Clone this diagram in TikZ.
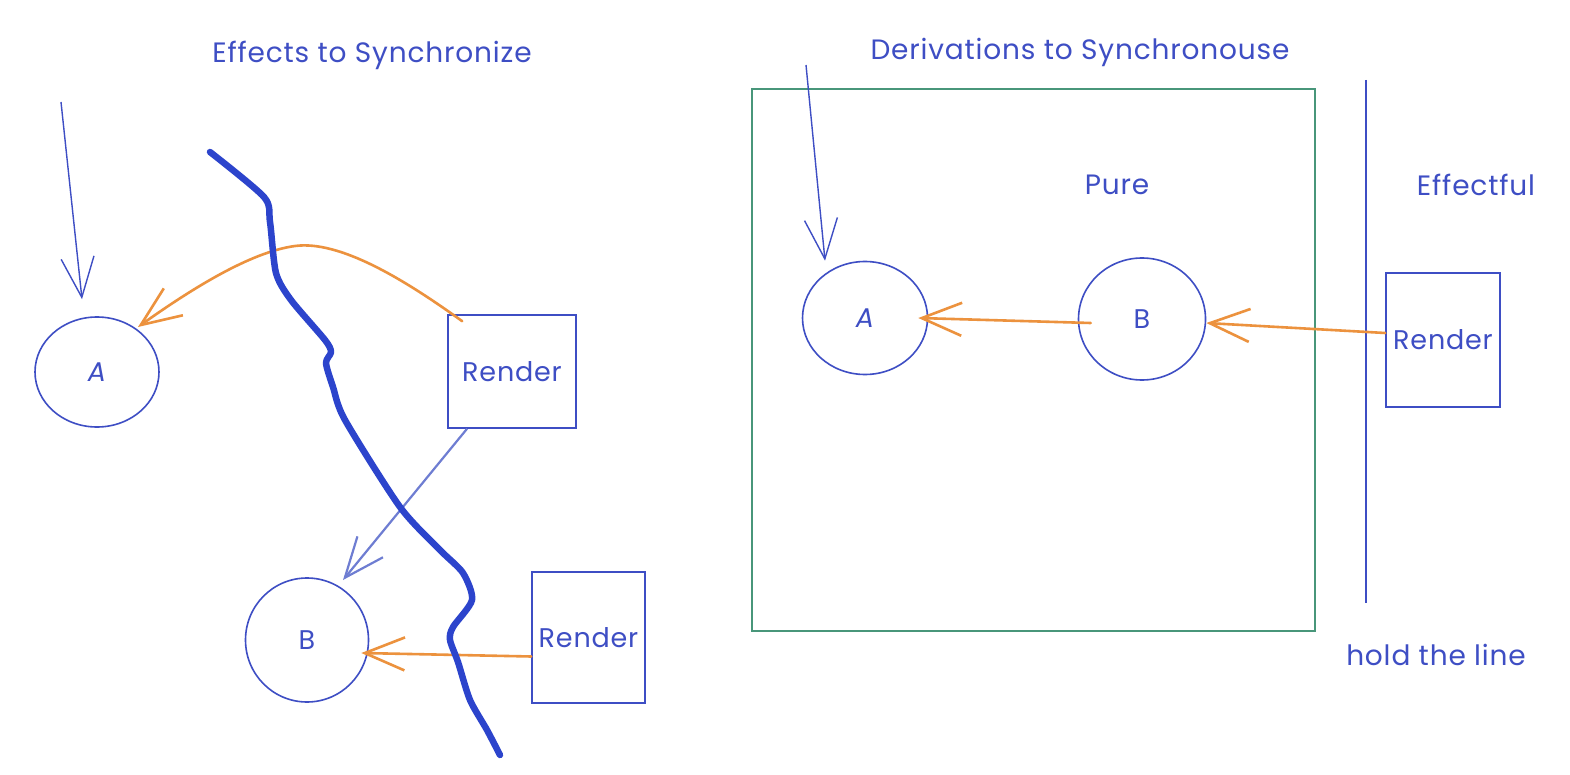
\documentclass[tikz,border=0pt]{standalone}
\usepackage{fontspec}
\setmainfont{Poppins}[LetterSpace=3]
\usetikzlibrary{arrows.meta,shapes.geometric}
\definecolor{inkblue}{RGB}{62,78,196}
\definecolor{thickblue}{RGB}{44,68,204}
\definecolor{inkorange}{RGB}{236,146,62}
\definecolor{inkgreen}{RGB}{72,150,122}
\definecolor{softblue}{RGB}{110,125,210}
\begin{document}
\begin{tikzpicture}[x=1pt,y=-1pt,
  lbl/.style={text=inkblue, font=\fontsize{28}{32}\selectfont, inner sep=0pt},
  circ/.style={ellipse, draw=inkblue, line width=1.6pt, text=inkblue, inner sep=0pt, font=\fontsize{27}{30}\selectfont},
  rbox/.style={rectangle, draw=inkblue, line width=1.6pt, text=inkblue, inner sep=0pt, font=\fontsize{27}{30}\selectfont},
  barb/.style={-{Straight Barb[length=40pt,width=33pt]}},
  inarrow/.style={barb, draw=inkblue, line width=1.4pt},
  orarrow/.style={barb, draw=inkorange, line width=2.6pt, line cap=round},
  fence/.style={draw=thickblue, line width=6.5pt, line cap=round, line join=round}
]
\useasboundingbox (0,0) rectangle (1570,775);
\fill[white] (0,0) rectangle (1570,775);

% ---------- left half ----------
\node[lbl] (t1) at (372,55) {Effects to Synchronize};
\node[circ, minimum width=124pt, minimum height=110pt] (A1) at (97,372) {\itshape A};
\node[rbox, minimum width=128pt, minimum height=113pt] (R1) at (512,371.5) {Render};
\node[circ, minimum width=123pt, minimum height=124pt] (B1) at (307,640) {B};
\node[rbox, minimum width=113pt, minimum height=131pt] (R2) at (588.5,637.5) {Render};

\coordinate (inA1) at (61,102);
\draw[inarrow] (inA1) -- ([shift={(-15pt,17pt)}]A1.north);

\draw[orarrow] ([shift={(15pt,-7pt)}]R1.north west)
  .. controls (405,280) and (340,240) .. (295,246)
  .. controls (250,252) and (190,290) .. ([shift={(41pt,45pt)}]A1.center);

\draw[barb, draw=softblue, line width=2.2pt] ([xshift=-45pt]R1.south) -- ([shift={(36pt,60pt)}]B1.center);

\draw[orarrow] ([yshift=-19pt]R2.west) -- ([shift={(-8pt,-13pt)}]B1.east);

\draw[fence] plot[smooth, tension=0.45] coordinates {
  (210,152) (264,197) (270,222) (276,273) (291,300) (325,340) (331,352)
  (326,363) (333,387) (345,420) (400,507) (440,550) (463,573) (472,600)
  (453,627) (450,640) (458,662) (470,700) (487,730) (500,755)};

% ---------- right half ----------
\node[lbl] (t2) at (1080,52) {Derivations to Synchronouse};
\node[rectangle, draw=inkgreen, line width=2.2pt, minimum width=563pt, minimum height=542pt] (purebox) at (1033.5,360) {};
\node[lbl] (pure) at (1117,185) {Pure};
\node[lbl] (eff) at (1476,185) {Effectful};
\node[lbl] (hold) at (1436,655) {hold the line};

\coordinate (lineTop) at (1366,80);
\coordinate (lineBot) at (1366,603);
\draw[draw=inkblue, line width=2.8pt] (lineTop) -- (lineBot);

\node[circ, minimum width=125pt, minimum height=113pt] (A2) at (865,318) {\itshape A};
\node[circ, minimum width=127pt, minimum height=122pt] (B2) at (1142,319) {B};
\node[rbox, minimum width=114pt, minimum height=134pt] (R3) at (1443,340) {Render};

\coordinate (inA2) at (806,65);
\draw[inarrow] (inA2) -- ([shift={(-40pt,0pt)}]A2.north);

\draw[orarrow] ([shift={(13pt,-4pt)}]B2.west) -- ([xshift=-10pt]A2.east);
\draw[orarrow] ([yshift=7pt]R3.west) -- ([yshift=-4pt]B2.east);
\end{tikzpicture}
\end{document}
